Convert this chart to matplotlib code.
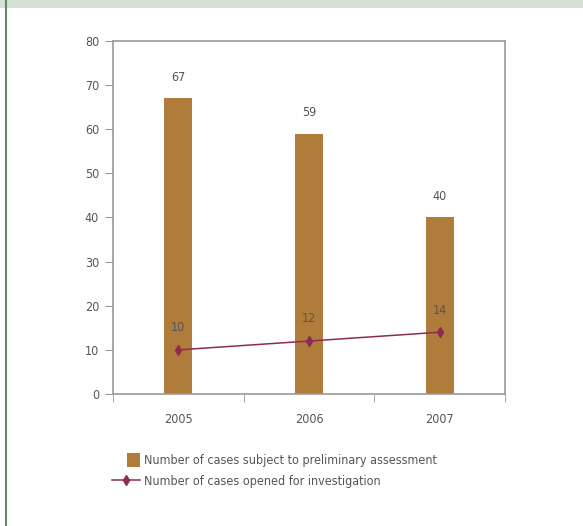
import numpy as np
import matplotlib
matplotlib.use("Agg")
import matplotlib.pyplot as plt
from matplotlib.patches import Rectangle
from matplotlib.lines import Line2D
from matplotlib.legend_handler import HandlerPatch

years = ["2005", "2006", "2007"]
assessed = [67, 59, 40]
opened = [10, 12, 14]

bar_col = "#b07c3c"
line_col = "#8e2b55"
grey = "#9a9a9a"
txt = "#555555"

plt.rcParams["font.family"] = ["DejaVu Sans"]
plt.rcParams["font.stretch"] = "condensed"

fig = plt.figure(figsize=(5.83, 5.26), dpi=100)
W, H = 583, 526

# decoration: top band and left rule
fig.patches.append(Rectangle((0, 1 - 8 / H), 1, 8 / H, transform=fig.transFigure,
                             facecolor="#d6e0d4", edgecolor="none"))
fig.lines.append(Line2D([6 / W, 6 / W], [0, 1], transform=fig.transFigure,
                        color="#5e8c5a", lw=1.5))

ax = fig.add_axes([113 / W, 1 - 394 / H, 392 / W, 353 / H])
x = np.arange(len(years))
ax.bar(x, assessed, width=0.215, color=bar_col, zorder=2)
ax.plot(x, opened, color=line_col, lw=1.1, marker="d", markersize=5.5, zorder=3)

for xi, v in zip(x, assessed):
    ax.text(xi, v + 4.8, str(v), ha="center", va="center", fontsize=9, color=txt)
for xi, v in zip(x, opened):
    ax.text(xi, v + 5, str(v), ha="center", va="center", fontsize=9, color=txt)

ax.set_xlim(-0.5, 2.5)
ax.set_ylim(0, 80)
ax.set_yticks(range(0, 81, 10))
ax.set_xticks(x)
ax.set_xticklabels(years)
ax.set_xticks([-0.5, 0.5, 1.5, 2.5], minor=True)
ax.tick_params(axis="x", which="major", length=0, pad=14, labelsize=9, labelcolor=txt)
ax.tick_params(axis="x", which="minor", length=6, color=grey, direction="out")
ax.tick_params(axis="y", length=6, color=grey, labelsize=9, labelcolor=txt, pad=4)
for s in ax.spines.values():
    s.set_color(grey)
    s.set_linewidth(1.2)


def small_box(legend, orig_handle, xdescent, ydescent, width, height, fontsize):
    # narrow upright swatch at the right end of the handle area
    return Rectangle((width - 9 - xdescent, -ydescent - 2), 9, height + 4)


handles = [Rectangle((0, 0), 1, 1, facecolor=bar_col),
           Line2D([], [], color=line_col, lw=1.1, marker="d", markersize=5.5)]
labels = ["Number of cases subject to preliminary assessment",
          "Number of cases opened for investigation"]
fig.legend(handles, labels, loc="upper left", bbox_to_anchor=(101 / W, 1 - 443 / H),
           frameon=False, fontsize=9, labelcolor=txt, handlelength=2.2,
           handletextpad=0.35, labelspacing=0.6,
           handler_map={Rectangle: HandlerPatch(patch_func=small_box)})

fig.savefig("out.png", dpi=100)
